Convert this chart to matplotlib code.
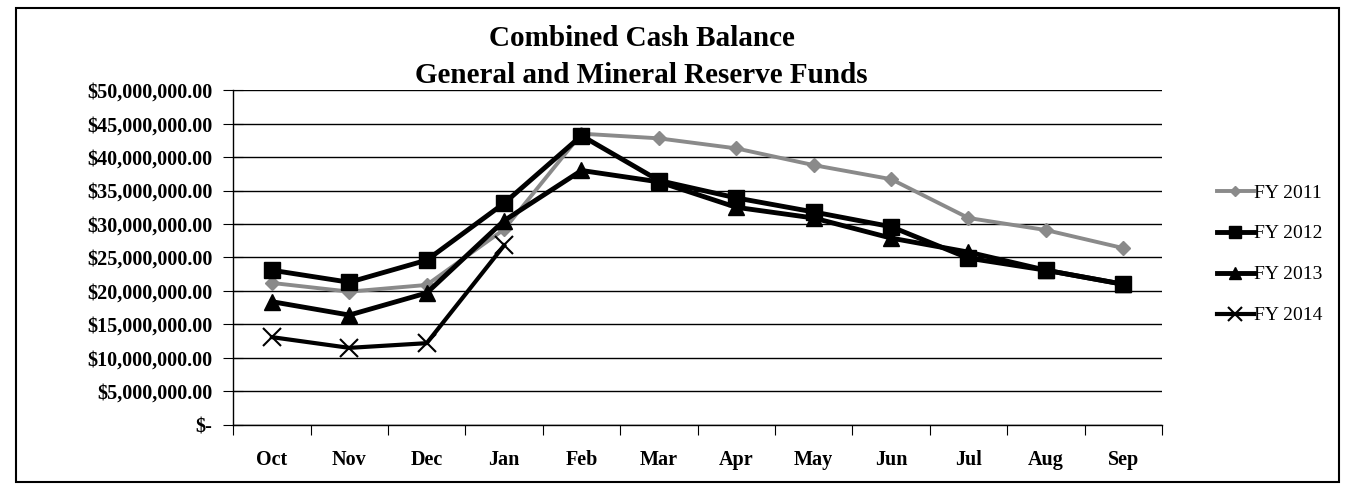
import matplotlib
matplotlib.use("Agg")
import matplotlib.pyplot as plt
from matplotlib.patches import Rectangle
from matplotlib.ticker import FuncFormatter, FixedLocator

months = ["Oct", "Nov", "Dec", "Jan", "Feb", "Mar", "Apr", "May", "Jun", "Jul", "Aug", "Sep"]
fy2011 = [21.2e6, 19.9e6, 20.9e6, 29.2e6, 43.5e6, 42.8e6, 41.3e6, 38.8e6, 36.7e6, 30.9e6, 29.1e6, 26.4e6]
fy2012 = [23.1e6, 21.3e6, 24.6e6, 33.1e6, 43.2e6, 36.5e6, 33.9e6, 31.8e6, 29.6e6, 24.9e6, 23.1e6, 21.0e6]
fy2013 = [18.4e6, 16.4e6, 19.7e6, 30.5e6, 38.0e6, 36.3e6, 32.5e6, 30.9e6, 27.9e6, 25.8e6, 23.1e6, 21.0e6]
fy2014 = [13.1e6, 11.5e6, 12.2e6, 26.8e6]

plt.rcParams['font.family'] = ['Liberation Serif', 'DejaVu Serif']

fig = plt.figure(figsize=(13.48, 4.9), dpi=100)
ax = fig.add_axes([0.173, 0.133, 0.689, 0.683])

x = list(range(len(months)))
ax.plot(x, fy2011, color="#8a8a8a", lw=2.8, marker="D", ms=7, label="FY 2011", zorder=3)
ax.plot(x, fy2012, color="black", lw=3.5, marker="s", ms=11, label="FY 2012", zorder=4)
ax.plot(x, fy2013, color="black", lw=3.5, marker="^", ms=11, label="FY 2013", zorder=4)
ax.plot(x[:len(fy2014)], fy2014, color="black", lw=3, marker="x", ms=13, mew=1.5,
        label="FY 2014", zorder=4)

ax.set_xlim(-0.5, len(months) - 0.5)
ax.set_ylim(0, 50e6)
ax.set_yticks([i * 5e6 for i in range(11)])

def money(v, pos):
    if v == 0:
        return "$-"
    return "${:,.2f}".format(v)

ax.yaxis.set_major_formatter(FuncFormatter(money))
ax.xaxis.set_major_locator(FixedLocator([i - 0.5 for i in range(len(months) + 1)]))
ax.xaxis.set_major_formatter(FuncFormatter(lambda v, p: ""))
ax.xaxis.set_minor_locator(FixedLocator(x))
ax.set_xticklabels(months, minor=True)
ax.tick_params(axis="x", which="minor", length=0, pad=18, labelsize=14.5)
ax.tick_params(axis="x", which="major", length=7, direction="out")
ax.tick_params(axis="y", length=14, direction="inout", labelsize=14.5, pad=8)
for lab in ax.get_yticklabels() + ax.get_xticklabels(minor=True):
    lab.set_fontweight("bold")

ax.grid(axis="y", color="black", lw=1)
for s in ["top", "right"]:
    ax.spines[s].set_visible(False)
ax.spines["left"].set_linewidth(1)
ax.spines["bottom"].set_linewidth(1)

leg = ax.legend(loc="center left", bbox_to_anchor=(1.04, 0.51), frameon=False,
                fontsize=14, handlelength=1.9, handletextpad=0.0, labelspacing=1.2,
                markerscale=0.8)

fig.text(0.476, 0.922, "Combined Cash Balance", ha="center", va="center",
         fontsize=21, fontweight="bold")
fig.text(0.476, 0.845, "General and Mineral Reserve Funds", ha="center", va="center",
         fontsize=21, fontweight="bold")

fig.patches.append(Rectangle((0.012, 0.016), 0.981, 0.968, transform=fig.transFigure,
                             fill=False, ec="black", lw=1.5))

fig.savefig("out.png", dpi=100)
